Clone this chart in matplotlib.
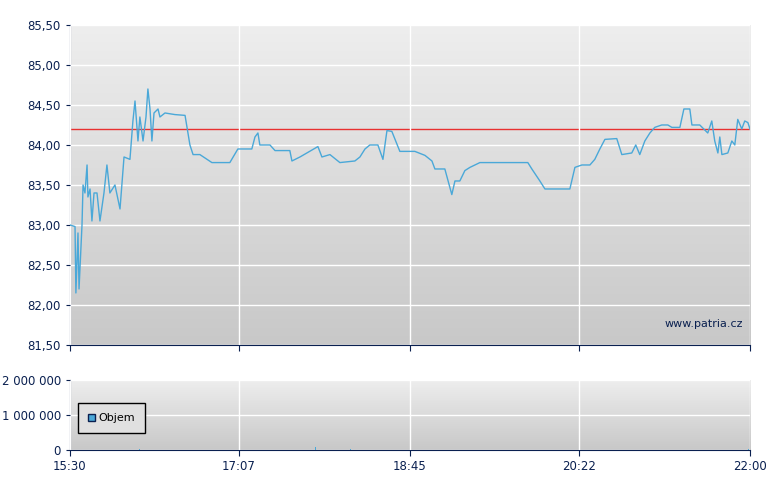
import numpy as np
import matplotlib
matplotlib.use("Agg")
import matplotlib.pyplot as plt
from matplotlib.ticker import FuncFormatter

# (minutes after 15:30, price)
TRADES = [
    (0, 83.0), (2.9, 82.98), (3.4, 82.15), (4.6, 82.9), (5.2, 82.2), (6.9, 83.0),
    (7.5, 83.5), (8.6, 83.4), (9.8, 83.75), (10.3, 83.35), (11.5, 83.45),
    (12.6, 83.05), (13.8, 83.4), (15.5, 83.4), (17.2, 83.05), (19.5, 83.4),
    (21.2, 83.75), (22.9, 83.4), (25.8, 83.5), (28.7, 83.2), (31.0, 83.85),
    (34.4, 83.82), (36.1, 84.3), (37.3, 84.55), (39.0, 84.05), (40.1, 84.35),
    (41.9, 84.05), (43.6, 84.35), (44.7, 84.7), (45.9, 84.45), (47.0, 84.05),
    (48.2, 84.4), (50.5, 84.45), (51.6, 84.35), (54.5, 84.4), (60.2, 84.38),
    (66.0, 84.37), (68.8, 84.0), (70.6, 83.88), (74.5, 83.88), (81.4, 83.78),
    (91.7, 83.78), (96.3, 83.95), (104.3, 83.95), (106.1, 84.1), (107.8, 84.15),
    (108.9, 84.0), (114.7, 84.0), (117.6, 83.93), (126.1, 83.93), (127.3, 83.8),
    (131.9, 83.85), (142.2, 83.98), (144.5, 83.85), (149.1, 83.88),
    (154.8, 83.78), (163.4, 83.8), (166.3, 83.85), (169.2, 83.95),
    (172.0, 84.0), (176.6, 84.0), (179.5, 83.82), (181.8, 84.18),
    (184.6, 84.17), (189.2, 83.92), (197.8, 83.92), (203.6, 83.87),
    (207.6, 83.8), (209.3, 83.7), (215.0, 83.7), (219.0, 83.38),
    (220.8, 83.55), (223.6, 83.55), (226.5, 83.68), (229.4, 83.72),
    (235.1, 83.78), (246.6, 83.78), (262.6, 83.78), (264.9, 83.7),
    (269.5, 83.55), (272.4, 83.45), (286.7, 83.45), (289.6, 83.72),
    (293.6, 83.75), (298.2, 83.75), (301.0, 83.82), (303.9, 83.95),
    (306.8, 84.07), (313.6, 84.08), (316.5, 83.88), (322.2, 83.9),
    (324.5, 84.0), (326.8, 83.88), (329.7, 84.05), (332.6, 84.15),
    (335.4, 84.22), (339.4, 84.25), (342.9, 84.25), (345.2, 84.22),
    (349.8, 84.22), (352.1, 84.45), (355.5, 84.45), (356.7, 84.25),
    (361.2, 84.25), (365.8, 84.15), (368.1, 84.3), (369.8, 84.05),
    (371.6, 83.9), (372.7, 84.1), (373.9, 83.88), (377.3, 83.9),
    (379.6, 84.05), (381.3, 84.0), (383.0, 84.32), (385.3, 84.2),
    (387.0, 84.3), (388.8, 84.28), (390.0, 84.2),
]
MIN_T = [t for t, _ in TRADES]
PRICE = [p for _, p in TRADES]
REF_PRICE = 84.2

VOL_T = [40, 141, 161, 189, 191, 194, 199, 298, 301, 304, 389]
VOL = [15000, 80000, 15000, 10000, 10000, 10000, 12000, 12000, 12000, 12000, 15000]

X_TICKS = [0, 97, 195, 292, 390]
X_LABELS = ["15:30", "17:07", "18:45", "20:22", "22:00"]

NAVY = "#0a2050"
LINE = "#4aa8d8"


def gradient(ax):
    g = np.linspace(0, 1, 256).reshape(-1, 1)
    ax.imshow(g, extent=[0, 1, 0, 1], transform=ax.transAxes, aspect="auto",
              cmap=matplotlib.colors.LinearSegmentedColormap.from_list(
                  "bg", ["#eeeeee", "#c8c8c8"]), zorder=0)


def style(ax):
    for s in ("top", "right"):
        ax.spines[s].set_visible(False)
    for s in ("left", "bottom"):
        ax.spines[s].set_color(NAVY)
    ax.tick_params(colors=NAVY, labelsize=8.5, length=4)
    ax.tick_params(axis="y", length=3)
    ax.set_xlim(0, 390)
    ax.set_xticks(X_TICKS)
    ax.grid(True, color="white", lw=1)
    ax.set_axisbelow(False)


fig = plt.figure(figsize=(7.8, 4.9), dpi=100)
ax = fig.add_axes([0.0897, 0.296, 0.8718, 0.653])
ax2 = fig.add_axes([0.0897, 0.0816, 0.8718, 0.143])

gradient(ax)
style(ax)
ax.set_ylim(81.5, 85.5)
ax.set_yticks(np.arange(81.5, 85.51, 0.5))
ax.yaxis.set_major_formatter(FuncFormatter(lambda v, p: f"{v:.2f}".replace(".", ",")))
ax.set_xticklabels([])
ax.plot(MIN_T, PRICE, color=LINE, lw=1, zorder=3)
ax.axhline(REF_PRICE, color="#e83030", lw=1, zorder=2)
ax.text(0.99, 0.055, "www.patria.cz", transform=ax.transAxes, ha="right",
        color=NAVY, fontsize=8)

gradient(ax2)
style(ax2)
ax2.set_ylim(0, 2000000)
ax2.set_yticks([0, 1000000, 2000000])
ax2.yaxis.set_major_formatter(FuncFormatter(lambda v, p: f"{int(v):,}".replace(",", " ")))
ax2.set_xticklabels(X_LABELS)
ax2.bar(VOL_T, VOL, width=0.6, color=LINE, zorder=3)
leg = ax2.legend(handles=[matplotlib.patches.Patch(facecolor=LINE, edgecolor=NAVY, label="Objem")],
                 loc="center left", bbox_to_anchor=(0.003, 0.45), fontsize=8,
                 fancybox=False, edgecolor="black", facecolor="#e0e0e0",
                 handlelength=0.7, handleheight=0.7, handletextpad=0.3, borderpad=0.9)
leg.get_frame().set_linewidth(1)
leg.get_frame().set_alpha(1)

fig.savefig("out.png", dpi=100)
